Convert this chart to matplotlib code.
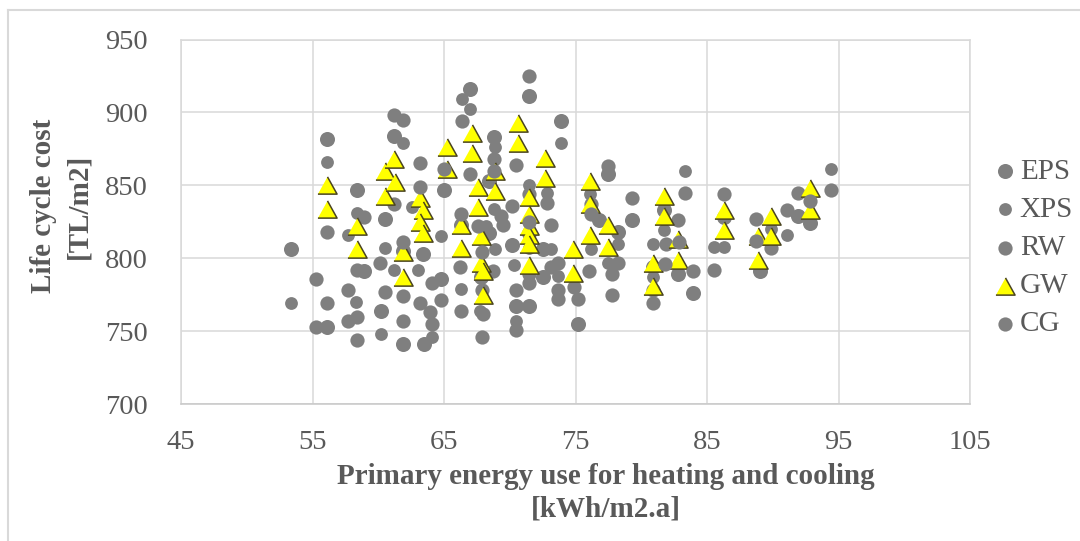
import matplotlib
matplotlib.use("Agg")
import matplotlib.pyplot as plt
from matplotlib.lines import Line2D

plt.rcParams['font.family'] = ['Liberation Serif', 'DejaVu Serif']

# life cycle cost vs primary energy use, one series per insulation material
eps_x = [53.4, 56.1, 56.1, 58.4, 58.9, 60.5, 60.2, 61.2, 61.9, 61.9, 63.4, 63.5, 64.8, 65.0,
         66.3, 67.0, 67.8, 68.0, 68.8, 68.4, 68.4, 70.2, 70.5, 71.5, 71.5, 71.5, 72.5, 72.5,
         73.9, 75.2, 76.8, 77.5, 78.2, 79.3, 80.9, 81.7, 82.8, 83.9, 86.3, 89.0, 91.9, 92.8]
eps_y = [806, 882, 753, 847, 791, 827, 764, 884, 805, 741, 803, 741, 786, 847,
         823, 916, 787, 790, 883, 853, 817, 809, 767, 911, 817, 767, 806, 787,
         894, 755, 826, 858, 818, 826, 794, 833, 789, 776, 828, 791, 829, 824]

xps_x = [53.4, 56.1, 57.7, 58.4, 58.3, 60.5, 60.2, 61.9, 61.2, 62.6, 63.0, 64.1, 64.8, 66.4,
         66.3, 67.0, 67.7, 68.2, 68.9, 68.8, 68.9, 70.3, 70.5, 71.5, 71.5, 72.8, 73.1, 73.7,
         73.9, 76.1, 76.2, 77.5, 78.2, 80.9, 80.9, 81.7, 83.3, 85.5, 86.3, 89.9, 91.1, 94.4]
xps_y = [769, 866, 816, 831, 770, 807, 748, 879, 792, 835, 792, 746, 815, 909,
         779, 902, 764, 822, 876, 834, 806, 795, 757, 850, 807, 845, 806, 788,
         879, 844, 806, 797, 810, 810, 787, 819, 860, 808, 808, 820, 816, 861]

rw_x = [55.3, 56.1, 57.7, 58.9, 58.4, 60.1, 61.2, 61.2, 61.9, 63.2, 63.2, 64.1, 64.8, 66.4,
        66.3, 67.0, 68.0, 67.9, 68.8, 69.3, 68.7, 70.5, 70.5, 71.5, 71.5, 72.8, 73.7, 73.7,
        74.9, 76.2, 76.0, 77.8, 78.2, 81.9, 80.9, 82.8, 83.3, 85.5, 88.7, 89.9, 91.9, 94.4]
rw_y = [786, 818, 778, 828, 760, 797, 898, 837, 774, 865, 769, 783, 771, 894,
        764, 858, 762, 778, 868, 829, 791, 864, 751, 844, 789, 838, 797, 778,
        780, 837, 791, 789, 797, 810, 778, 826, 845, 792, 827, 807, 845, 847]

gw_x = [56.1, 56.1, 58.4, 58.4, 60.5, 60.5, 61.2, 61.3, 61.9, 61.9, 63.2, 63.4, 63.2, 63.4,
        65.2, 65.2, 66.3, 66.3, 67.1, 67.1, 67.6, 67.6, 67.8, 67.8, 68.0, 68.0, 68.9, 68.9,
        70.6, 70.6, 71.5, 71.5, 71.5, 71.5, 71.5, 71.5, 72.7, 72.7, 74.8, 74.8, 76.1, 76.1,
        76.1, 77.5, 77.5, 80.9, 80.9, 81.7, 81.7, 82.8, 82.8, 86.3, 86.3, 88.9, 88.9, 89.9,
        89.9, 92.8, 92.8]
gw_y = [850, 834, 822, 806, 860, 843, 868, 852, 804, 787, 841, 833, 825, 817,
        876, 861, 823, 807, 886, 872, 849, 835, 815, 797, 791, 775, 846, 860,
        893, 879, 842, 830, 822, 816, 810, 795, 869, 855, 806, 790, 853, 837,
        816, 823, 808, 797, 781, 843, 829, 813, 799, 833, 819, 815, 799, 829,
        815, 848, 833]

cg_x = [55.3, 56.1, 57.7, 58.4, 58.4, 60.5, 61.9, 61.9, 61.9, 63.2, 63.9, 64.1, 65.0, 66.3,
        66.2, 67.6, 67.9, 67.9, 68.8, 69.5, 70.2, 70.5, 71.5, 71.5, 71.5, 73.1, 73.1, 73.7,
        75.2, 76.2, 77.5, 77.8, 79.3, 81.8, 80.9, 82.9, 83.9, 86.3, 88.7, 91.1, 92.8]
cg_y = [753, 769, 757, 792, 744, 777, 895, 811, 757, 849, 763, 755, 861, 830,
        794, 822, 746, 804, 860, 823, 836, 778, 925, 825, 783, 823, 794, 772,
        772, 830, 863, 775, 841, 796, 769, 811, 791, 844, 812, 833, 839]

x_ticks = [45, 55, 65, 75, 85, 95, 105]
y_ticks = [700, 750, 800, 850, 900, 950]

grey = '#7f7f7f'
text_grey = '#595959'
grid_grey = '#d9d9d9'

fig = plt.figure(figsize=(10.8, 5.41), dpi=100)
ax = fig.add_axes([181 / 1080, 1 - 404 / 541, 789 / 1080, 364.5 / 541])

tri = [(-1, -0.9), (1, -0.9), (0, 0.9)]
ax.scatter(eps_x, eps_y, s=117, c=grey, linewidths=0, label='EPS', zorder=3)
ax.scatter(xps_x, xps_y, s=85, c=grey, linewidths=0, label='XPS', zorder=3)
ax.scatter(rw_x, rw_y, s=105, c=grey, linewidths=0, label='RW', zorder=3)
ax.scatter(gw_x, gw_y, s=190, c='#ffff00', marker=tri, edgecolors='#4a4420',
           linewidths=1.1, label='GW', zorder=4)
ax.scatter(cg_x, cg_y, s=105, c=grey, linewidths=0, label='CG', zorder=5)

ax.set_xlim(45, 105)
ax.set_ylim(700, 950)
ax.set_xticks(x_ticks)
ax.set_yticks(y_ticks)
ax.grid(True, color=grid_grey, linewidth=1.1, zorder=0)
ax.set_axisbelow(True)
for side in ax.spines.values():
    side.set_color(grid_grey)
    side.set_linewidth(1.1)
ax.spines['bottom'].set_color('#c8c8c8')
ax.tick_params(length=0, labelsize=20.5, labelcolor=text_grey)
ax.tick_params(axis='y', pad=24)
ax.tick_params(axis='x', pad=19)

fig.text(61.5 / 1080, 1 - 206 / 541, 'Life cycle cost\n[TL/m2]', rotation=90,
         ha='center', va='center', fontsize=21, fontweight='bold',
         color=text_grey, linespacing=1.41, multialignment='center')
fig.text(606 / 1080, 1 - 492.5 / 541, 'Primary energy use for heating and cooling\n[kWh/m2.a]',
         ha='center', va='center', fontsize=21, fontweight='bold',
         color=text_grey, linespacing=1.26, multialignment='center')

leg = fig.legend(loc='center left', bbox_to_anchor=(979 / 1080, 1 - 248 / 541),
                 frameon=False, fontsize=21, labelspacing=0.40, handletextpad=0.0,
                 handlelength=1.0, borderaxespad=0)
for t in leg.get_texts():
    t.set_color(text_grey)

# outer chart frame, only top and left edges inside the canvas
fig.add_artist(Line2D([8 / 1080, 8 / 1080], [0, 1 - 10 / 541], transform=fig.transFigure,
                      color=grid_grey, linewidth=1.5))
fig.add_artist(Line2D([8 / 1080, 1], [1 - 10 / 541, 1 - 10 / 541], transform=fig.transFigure,
                      color=grid_grey, linewidth=1.5))

fig.savefig('out.png', dpi=100)
